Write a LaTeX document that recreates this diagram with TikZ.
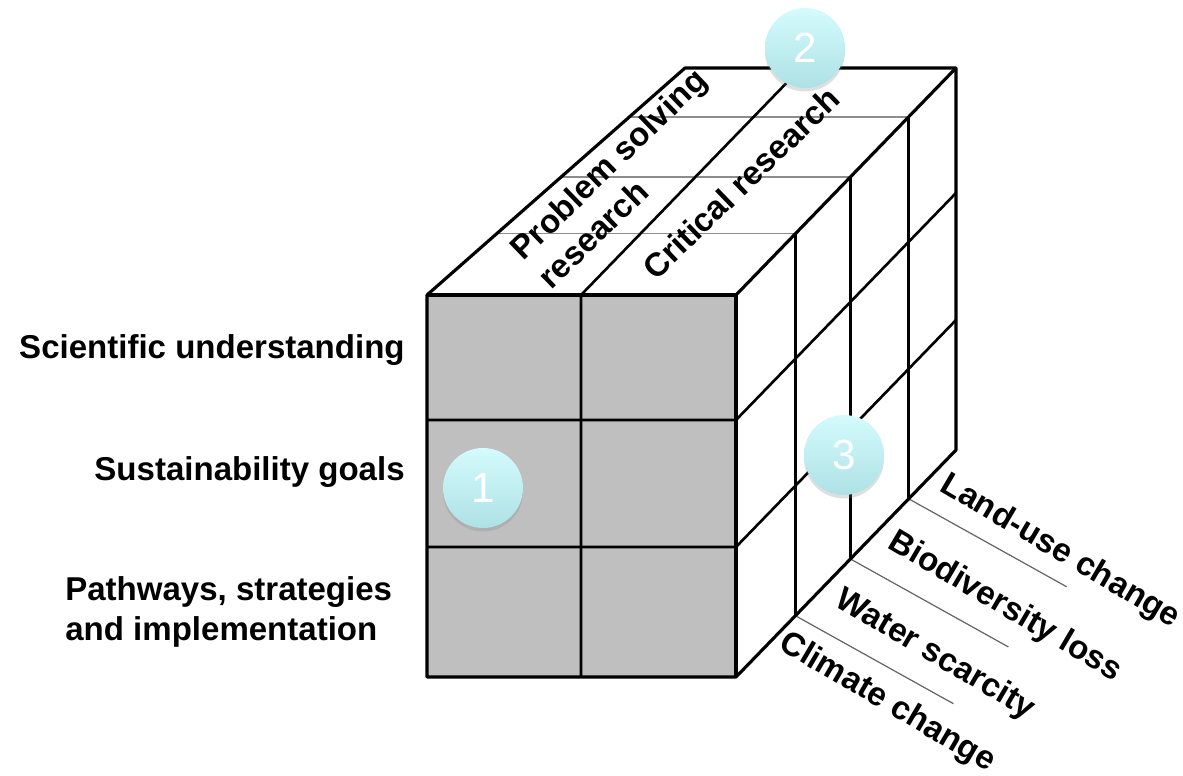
\documentclass[tikz,border=0pt]{standalone}
\usepackage{fontspec}
\setmainfont{Liberation Sans}
\usetikzlibrary{calc, shadows}
\definecolor{badgetop}{RGB}{212,251,253}
\definecolor{badgebottom}{RGB}{174,225,229}

\begin{document}
\begin{tikzpicture}[
    x=0.02cm, y=-0.02cm,
    edge/.style={draw=black, line width=1.8pt, line join=round},
    grid/.style={draw=black, line width=1.5pt},
    faint/.style={draw=black!45, line width=0.8pt},
    leader/.style={draw=black!60, line width=0.7pt},
    axislabel/.style={font=\fontsize{18.8}{22.7}\selectfont\bfseries, inner sep=0pt},
    badge/.style={circle, minimum size=1.6cm, inner sep=0pt, draw=none,
        top color=badgetop, bottom color=badgebottom, text=white,
        font=\fontsize{24}{24}\selectfont,
        drop shadow={shadow xshift=0pt, shadow yshift=-2pt, opacity=0.25}}
]
    \useasboundingbox (0,0) rectangle (1183,776);

    % Cube corners
    \coordinate (ftl) at (427,295);
    \coordinate (ftr) at (736,295);
    \coordinate (fbl) at (427,677);
    \coordinate (fbr) at (736,677);
    \coordinate (btl) at (685,68);
    \coordinate (btr) at (956,68);
    \coordinate (bbr) at (956,450);

    % Faces
    \fill[black!25] (ftl) rectangle (fbr);
    \fill[white] (ftl) -- (btl) -- (btr) -- (ftr) -- cycle;
    \fill[white] (ftr) -- (btr) -- (bbr) -- (fbr) -- cycle;

    % Depth divisions (top face and right face)
    \foreach \f in {0.27,0.52,0.785} {
        \draw[faint] ($(ftl)!\f!(btl)$) -- ($(ftr)!\f!(btr)$);
        \draw[grid] ($(ftr)!\f!(btr)$) -- ($(fbr)!\f!(bbr)$);
        \draw[leader] ($(fbr)!\f!(bbr)$) -- ++(158,88);
    }

    % Rows and column
    \foreach \y in {420,547}
        \draw[grid] (427,\y) -- (736,\y) -- ++(220,-227);
    \draw[grid] (581,677) -- (581,295) -- ++(220,-227);

    % Outline
    \draw[edge] (fbl) -- (ftl) -- (btl) -- (btr) -- (bbr) -- (fbr) -- cycle;
    \draw[edge] (ftl) -- (ftr) -- (fbr);
    \draw[edge] (ftr) -- (btr);

    % Left labels
    \node[axislabel, anchor=east] (sci) at (405,350) {Scientific understanding};
    \node[axislabel, anchor=east] (goals) at (405,472) {Sustainability goals};
    \node[axislabel, anchor=west, align=left] (paths) at (65,612) {Pathways, strategies\\and implementation};

    % Top labels
    \node[axislabel, rotate=44, align=left] (problem) at (622,178) {Problem solving\\research};
    \node[axislabel, rotate=44] (critical) at (741,183) {Critical research};

    % Right labels
    \node[axislabel, rotate=-30.5] (climate) at (887,703) {Climate change};
    \node[axislabel, rotate=-30.5] (water) at (935,655) {Water scarcity};
    \node[axislabel, rotate=-30.5] (bio) at (1005,607) {Biodiversity loss};
    \node[axislabel, rotate=-30.5] (land) at (1060,552) {Land-use change};

    % Badges
    \node[badge] (one) at (483,488) {1};
    \node[badge] (two) at (805,48) {2};
    \node[badge] (three) at (844,455) {3};
\end{tikzpicture}
\end{document}
